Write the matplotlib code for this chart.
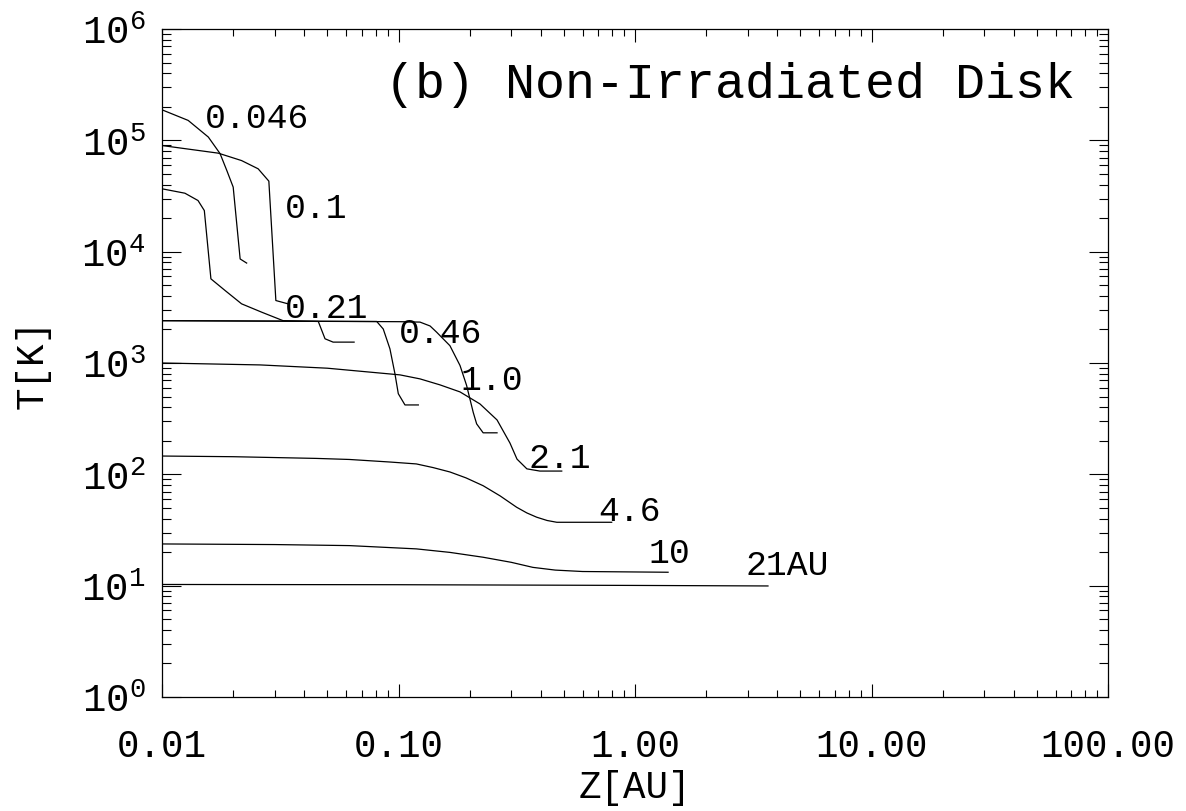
import numpy as np
import matplotlib
matplotlib.use("Agg")
import matplotlib.pyplot as plt
from matplotlib.ticker import FixedLocator, LogLocator, NullFormatter

plt.rcParams['font.family'] = ['Liberation Mono', 'DejaVu Sans Mono']
plt.rcParams['mathtext.fontset'] = 'custom'
plt.rcParams['mathtext.rm'] = 'Liberation Mono'

# T(z) profiles at each radius
radii = ['0.046', '0.1', '0.21', '0.46', '1.0', '2.1', '4.6', '10', '21AU']

z_046 = [0.0100, 0.0129, 0.0157, 0.0176, 0.0188, 0.0200, 0.0214, 0.0228]
T_046 = [1.88e5, 1.51e5, 1.07e5, 7.6e4, 5.35e4, 3.8e4, 8.6e3, 7.9e3]

z_01 = [0.0100, 0.0173, 0.0217, 0.0255, 0.0283, 0.0303, 0.0341]
T_01 = [8.98e4, 7.67e4, 6.58e4, 5.55e4, 4.30e4, 3.64e3, 3.40e3]

z_021 = [0.0100, 0.0125, 0.0142, 0.0151, 0.0161, 0.0185, 0.0217, 0.0264, 0.0325,
         0.0458, 0.0489, 0.0529, 0.0649]
T_021 = [3.67e4, 3.35e4, 2.88e4, 2.34e4, 5.70e3, 4.47e3, 3.40e3, 2.86e3, 2.40e3,
         2.36e3, 1.65e3, 1.54e3, 1.54e3]

z_046b = [0.0100, 0.0809, 0.0862, 0.0920, 0.0966, 0.0998, 0.1065, 0.1213]
T_046b = [2400, 2360, 2020, 1340, 800, 530, 420, 420]

z_10 = [0.0100, 0.1015, 0.1233, 0.136, 0.145, 0.165, 0.182, 0.194, 0.207, 0.214,
        0.228, 0.261]
T_10 = [2400, 2350, 2330, 2150, 1890, 1430, 950, 630, 360, 284, 236, 236]

z_21 = [0.0100, 0.026, 0.050, 0.1015, 0.1233, 0.1498, 0.182, 0.221, 0.261, 0.296,
        0.317, 0.349, 0.396, 0.490]
T_21 = [1000, 961, 898, 782, 720, 636, 550, 429, 308, 191, 137, 112, 107, 107]

z_46 = [0.0100, 0.020, 0.045, 0.062, 0.092, 0.119, 0.140, 0.165, 0.193, 0.228,
        0.269, 0.316, 0.349, 0.384, 0.425, 0.467, 0.56, 0.797]
T_46 = [146, 144, 139, 136, 129, 124, 115, 105, 92.9, 79, 64, 50.6, 45, 41.2,
        38.5, 37.1, 37.1, 37.1]

z_100 = [0.0100, 0.030, 0.062, 0.119, 0.165, 0.228, 0.300, 0.370, 0.460, 0.600, 1.38]
T_100 = [23.7, 23.4, 22.9, 21.4, 19.9, 18.0, 16.2, 14.6, 13.8, 13.4, 13.2]

z_210 = [0.0100, 0.10, 1.0, 3.65]
T_210 = [10.25, 10.2, 10.05, 9.94]

profiles = [(z_046, T_046), (z_01, T_01), (z_021, T_021), (z_046b, T_046b),
            (z_10, T_10), (z_21, T_21), (z_46, T_46), (z_100, T_100), (z_210, T_210)]

# label anchor points (left / baseline)
label_z = [0.0152, 0.0331, 0.0331, 0.1005, 0.182, 0.353, 0.698, 1.135, 2.92]
label_T = [1.32e5, 2.05e4, 2.6e3, 1.55e3, 585, 117, 38.9, 16.3, 12.7]

xticks = [0.01, 0.1, 1.0, 10.0, 100.0]
xticklabels = ['0.01', '0.10', '1.00', '10.00', '100.00']
yticks = [1e0, 1e1, 1e2, 1e3, 1e4, 1e5, 1e6]

fig = plt.figure(figsize=(11.86, 8.12), dpi=100)
ax = fig.add_axes([162/1186, 114/812, 946/1186, 668/812])

for z, T in profiles:
    ax.plot(z, T, color='black', lw=0.9)

for name, zx, ty in zip(radii, label_z, label_T):
    ax.text(zx, ty, name, fontsize=25, ha='left', va='baseline')

ax.set_xscale('log')
ax.set_yscale('log')
ax.set_xlim(0.01, 100)
ax.set_ylim(1, 1e6)

ax.xaxis.set_major_locator(FixedLocator(xticks))
ax.set_xticklabels(xticklabels)
ax.xaxis.set_minor_locator(LogLocator(subs=np.arange(2, 10)))
ax.xaxis.set_minor_formatter(NullFormatter())
ax.yaxis.set_major_locator(FixedLocator(yticks))
ax.set_yticklabels([r'$\mathregular{10^{%d}}$' % int(np.log10(v)) for v in yticks])
ax.yaxis.set_minor_locator(LogLocator(subs=np.arange(2, 10), numticks=20))
ax.yaxis.set_minor_formatter(NullFormatter())

ax.tick_params(which='both', direction='in', top=True, right=True, width=0.8)
ax.tick_params(axis='x', which='major', length=9.5, pad=22, labelsize=27)
ax.tick_params(axis='x', which='minor', length=4.8)
ax.tick_params(axis='y', which='major', length=13.5, pad=12, labelsize=28)
ax.tick_params(axis='y', which='minor', length=6.8)
for s in ax.spines.values():
    s.set_linewidth(0.9)

ax.set_xlabel('Z[AU]', fontsize=27)
ax.xaxis.set_label_coords(0.5, -0.108)
ax.set_ylabel('T[K]', fontsize=27)
ax.yaxis.set_label_coords(-0.118, 0.5)

ax.text(0.965, 0.898, '(b) Non-Irradiated Disk', transform=ax.transAxes,
        fontsize=36, ha='right', va='baseline')

fig.savefig('out.png', dpi=100)
